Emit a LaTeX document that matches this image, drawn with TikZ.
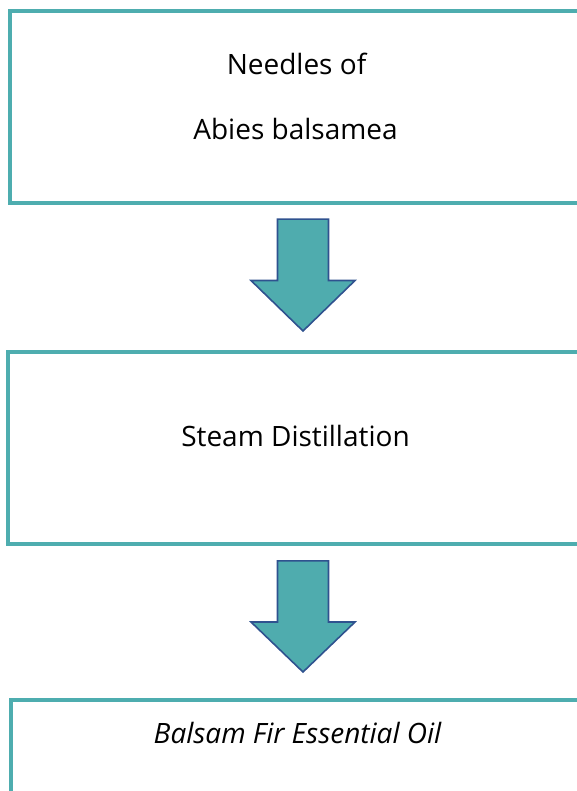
\documentclass[tikz,border=0pt]{standalone}
\usepackage{fontspec}
\setmainfont{Open Sans}
\definecolor{boxteal}{HTML}{4EADAF}
\definecolor{arrowfill}{HTML}{4FACAE}
\definecolor{arrowline}{HTML}{2F528F}
\begin{document}
\begin{tikzpicture}[x=1pt,y=-1pt,
  stagebox/.style={draw=boxteal, line width=4pt, fill=white, inner sep=0pt, outer sep=0pt},
  stagetext/.style={font=\fontsize{28}{34}\selectfont, anchor=base, inner sep=0pt, text=black},
  flow/.style={fill=arrowfill, draw=arrowline, line width=1.6pt, line join=miter}]
\useasboundingbox (0,0) rectangle (577,791);
\clip (0,0) rectangle (577,791);
% boxes
\node[stagebox, minimum width=572pt, minimum height=191.7pt] (b1) at (296,106.85) {};
\node[stagebox, minimum width=574pt, minimum height=192pt] (b2) at (295,448) {};
\node[stagebox, minimum width=571.2pt, minimum height=200pt] (b3) at (296.4,800) {};
% texts
\node[stagetext] (t1a) at (296.5,75) {Needles of};
\node[stagetext] (t1b) at (295.5,140) {Abies balsamea};
\node[stagetext] (t2) at (295.5,446.7) {Steam Distillation};
\node[stagetext, font=\fontsize{28}{34}\selectfont\itshape] (t3) at (297.5,743.3) {Balsam Fir Essential Oil};
% block arrows
\draw[flow] (277.5,219.1) -- (328.5,219.1) -- (328.5,280.5) -- (355,280.5) -- (303,331) -- (251,280.5) -- (277.5,280.5) -- cycle;
\draw[flow] (277.5,560.8) -- (328.5,560.8) -- (328.5,622) -- (355,622) -- (303,672) -- (251,622) -- (277.5,622) -- cycle;
\end{tikzpicture}
\end{document}
